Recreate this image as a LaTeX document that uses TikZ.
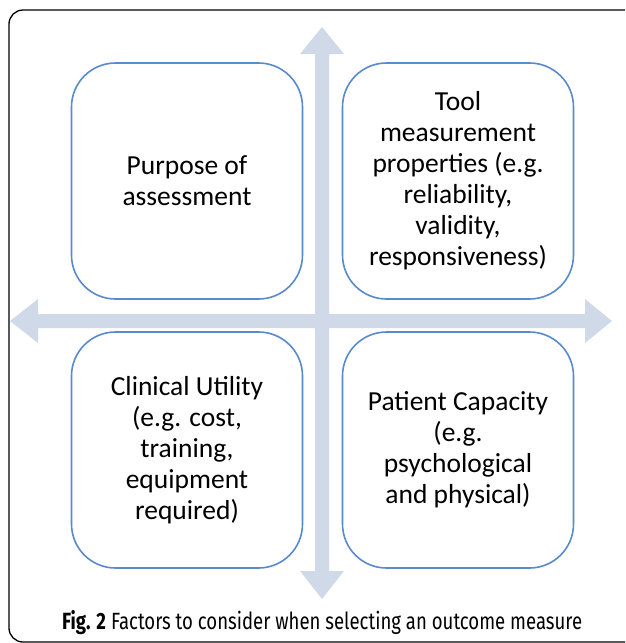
\documentclass[tikz,border=0pt]{standalone}
\usepackage{fontspec}
\setmainfont{Carlito}
\newfontfamily\capfont[FakeStretch=0.79]{Fira Sans}
\usepackage{tikz}
\usepackage{xcolor}
\definecolor{boxblue}{RGB}{88,138,204}
\definecolor{arrowgrey}{RGB}{208,217,232}
\tikzset{
	factor/.style={draw=boxblue, line width=1.6pt, rounded corners=44pt, fill=white,
		minimum width=231pt, minimum height=236pt, align=center,
		font=\fontsize{27.5}{31}\selectfont, inner sep=0pt}
}

\begin{document}
\begin{tikzpicture}[x=1pt,y=-1pt]
	\useasboundingbox (0,0) rectangle (625,643);
	% outer frame, cut at the right and bottom
	\begin{scope}
		\clip (0,0) rectangle (625,643);
		\draw[line width=1.3pt, rounded corners=14pt] (9,642) rectangle (660,10);
	\end{scope}
	% the two arrows
	\fill[arrowgrey] (322,27)--(344,54)--(329,54)--(329,571)--(344,571)--(322,599)--(300,571)--(315,571)--(315,54)--(300,54)--cycle;
	\fill[arrowgrey] (10,321)--(38,299)--(38,314)--(585,314)--(585,299)--(612,321)--(585,343)--(585,328)--(38,328)--(38,343)--cycle;
	% the four boxes
	\node[factor] (purpose) at (187,181) {Purpose of\\assessment};
	\node[factor] (tool) at (458,181) {Tool\\measurement\\properties (e.g.\\reliability,\\validity,\\responsiveness)};
	\node[factor] (utility) at (187,450) {Clinical Utility\\(e.g. cost,\\training,\\equipment\\required)};
	\node[factor] (capacity) at (458,450) {Patient Capacity\\(e.g.\\psychological\\and physical)};
	% caption
	\node[anchor=base west, inner sep=0pt, font=\capfont\fontsize{23.5}{26}\selectfont] (caption) at (62,629) {\textbf{Fig. 2} Factors to consider when selecting an outcome measure};
\end{tikzpicture}
\end{document}
